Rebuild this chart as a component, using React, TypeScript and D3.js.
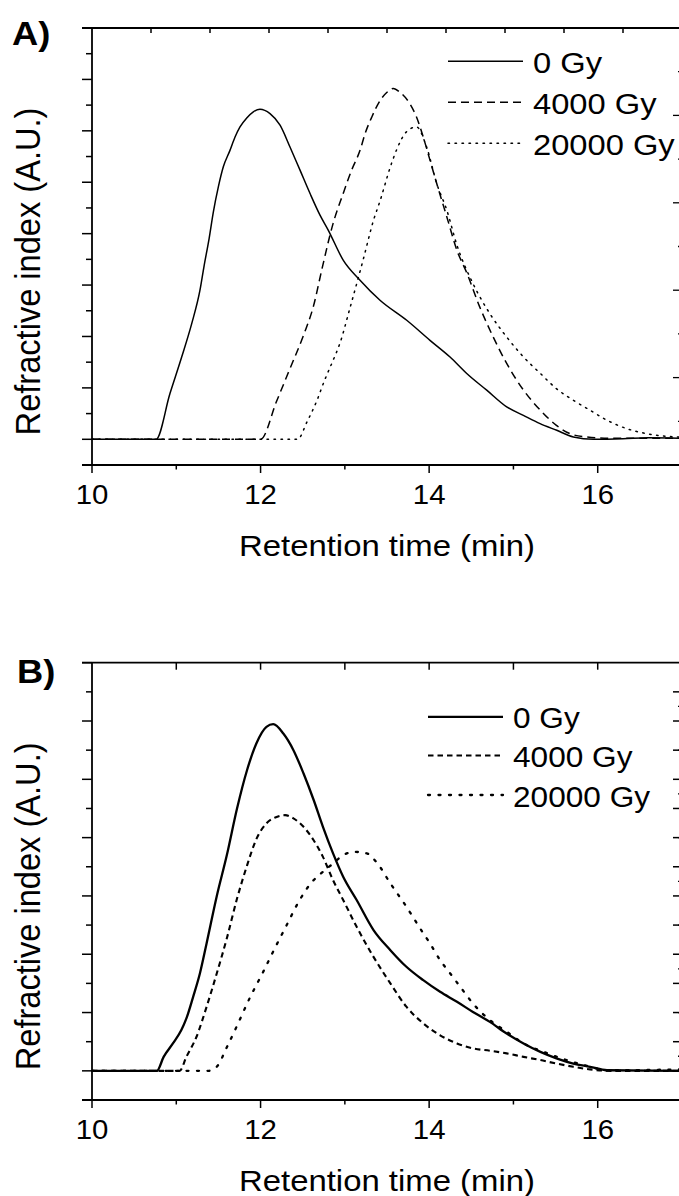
import React from "react";
import * as d3 from "d3";

// ---------- DATA ----------
const xTickLabels = ["10", "12", "14", "16"];
const legendLabels = ["0 Gy", "4000 Gy", "20000 Gy"];
const xTitle = "Retention time (min)";
const yTitle = "Refractive index (A.U.)";

// Panel A
const tA0 = [10, 10.76, 10.925, 11.064, 11.183, 11.281, 11.33, 11.39, 11.44, 11.499, 11.558, 11.637, 11.697, 11.756, 11.836, 11.914, 11.993, 12.112, 12.231, 12.349, 12.468, 12.587, 12.705, 12.804, 12.982, 13.18, 13.417, 13.734, 14.01, 14.248, 14.446, 14.683, 14.92, 15.118, 15.316, 15.514, 15.711, 15.948, 16.3, 16.6, 17];
const vA0 = [0, 0, 1.78, 3.2, 4.5, 5.8, 6.75, 7.82, 8.85, 9.82, 10.6, 11.24, 11.76, 12.15, 12.5, 12.74, 12.84, 12.67, 12.22, 11.37, 10.47, 9.56, 8.72, 8.13, 6.96, 6.19, 5.41, 4.63, 3.85, 3.2, 2.56, 1.91, 1.26, 0.93, 0.61, 0.35, 0.09, 0, 0.02, 0.06, 0.04];

const tA1 = [10, 12.0, 12.19, 12.35, 12.51, 12.63, 12.73, 12.86, 12.98, 13.08, 13.18, 13.24, 13.32, 13.42, 13.5, 13.575, 13.65, 13.77, 13.85, 13.93, 14.01, 14.09, 14.21, 14.33, 14.45, 14.6, 14.76, 14.92, 15.12, 15.32, 15.51, 15.67, 15.87, 16.15, 17];
const vA1 = [0, 0, 1.48, 2.76, 4.05, 5.21, 6.65, 8.39, 9.56, 10.47, 11.24, 11.89, 12.54, 13.19, 13.5, 13.65, 13.51, 13.06, 12.54, 11.76, 10.86, 9.95, 8.65, 7.35, 6.45, 5.15, 3.98, 2.95, 1.91, 1.13, 0.54, 0.22, 0.09, 0.04, 0.04];

const tA2 = [10, 12.44, 12.55, 12.67, 12.76, 12.86, 12.94, 13.06, 13.22, 13.34, 13.42, 13.54, 13.62, 13.73, 13.85, 13.97, 14.09, 14.21, 14.33, 14.52, 14.72, 14.92, 15.12, 15.32, 15.51, 15.71, 15.91, 16.11, 16.34, 16.58, 17];
const vA2 = [0, 0, 0.67, 1.52, 2.3, 3.07, 3.72, 5.1, 7.02, 8.52, 9.3, 10.6, 11.31, 11.96, 12.15, 11.37, 9.95, 8.91, 7.55, 6.06, 4.89, 3.98, 3.2, 2.56, 1.97, 1.52, 1.13, 0.74, 0.42, 0.22, 0.08];

// Panel B
const tB0 = [10, 10.77, 10.85, 10.96, 11.06, 11.12, 11.2, 11.28, 11.36, 11.48, 11.6, 11.72, 11.84, 11.95, 12.07, 12.15, 12.27, 12.39, 12.51, 12.63, 12.74, 12.86, 12.98, 13.14, 13.34, 13.54, 13.73, 13.93, 14.13, 14.33, 14.52, 14.72, 14.92, 15.12, 15.32, 15.51, 15.71, 15.91, 16.11, 17];
const vB0 = [0, 0, 0.48, 0.94, 1.4, 1.8, 2.54, 3.34, 4.38, 5.99, 7.4, 8.99, 10.32, 11.23, 11.8, 11.89, 11.57, 11.0, 10.2, 9.29, 8.37, 7.46, 6.66, 5.86, 4.83, 4.14, 3.57, 3.11, 2.71, 2.37, 2.02, 1.68, 1.28, 0.94, 0.65, 0.43, 0.25, 0.14, 0.02, 0];

const tB1 = [10, 11.04, 11.12, 11.24, 11.36, 11.48, 11.6, 11.72, 11.84, 11.95, 12.07, 12.19, 12.29, 12.39, 12.51, 12.63, 12.74, 12.86, 12.98, 13.14, 13.34, 13.54, 13.73, 13.93, 14.13, 14.33, 14.52, 14.72, 14.92, 15.12, 15.32, 15.51, 15.71, 15.91, 16.15, 17];
const vB1 = [0, 0, 0.48, 1.17, 2.2, 3.34, 4.55, 5.9, 7.05, 7.95, 8.49, 8.71, 8.77, 8.66, 8.37, 7.91, 7.34, 6.54, 5.86, 4.94, 3.91, 3.0, 2.2, 1.63, 1.22, 0.94, 0.77, 0.69, 0.6, 0.48, 0.37, 0.25, 0.14, 0.05, 0, 0];

const tB2 = [10, 11.38, 11.48, 11.6, 11.74, 11.87, 12.03, 12.17, 12.31, 12.45, 12.59, 12.74, 12.86, 12.98, 13.12, 13.26, 13.38, 13.54, 13.73, 13.89, 14.01, 14.13, 14.25, 14.37, 14.52, 14.72, 14.92, 15.12, 15.36, 15.63, 15.91, 16.11, 17];
const vB2 = [0, 0, 0.14, 0.81, 1.67, 2.49, 3.39, 4.21, 5.0, 5.79, 6.41, 6.83, 7.11, 7.4, 7.51, 7.46, 7.14, 6.43, 5.63, 4.9, 4.37, 3.8, 3.34, 2.88, 2.31, 1.74, 1.34, 0.94, 0.65, 0.37, 0.14, 0.02, 0.05];

// ---------- LAYOUT ----------
const W = 679;
const H = 1196;
const FONT = "'Liberation Sans', Arial, Helvetica, sans-serif";
const X0 = 92;
const X1 = 682;

type Series = { t: number[]; v: number[]; dash: string; width: number };

type PanelProps = {
  label: string;
  top: number;
  bottom: number;
  yMax: number;
  series: Series[];
  legendX: number;
  legendLineX0: number;
  legendBaselines: number[];
  legendFont: number;
  topTicksMinor: boolean;
  topTickLen: number;
  labelX: number;
  labelY: number;
  mirrorRight: boolean;
};

function Panel(p: PanelProps) {
  const x = d3.scaleLinear().domain([10, 17]).range([X0, X1]);
  const y = d3.scaleLinear().domain([-1, p.yMax]).range([p.bottom, p.top]);
  const line = d3
    .line<[number, number]>()
    .x((d) => x(d[0]))
    .y((d) => y(d[1]))
    .curve(d3.curveMonotoneX);

  const yTicks = d3.range(-1, p.yMax + 1);
  const xTicks = d3.range(10, 18);
  const axisW = 1.8;
  const rightDiv = d3.range(1, 10).map((k) => p.top + ((p.bottom - p.top) * k) / 10);
  const topDiv = p.topTicksMinor
    ? d3.range(1, 10).map((k) => X0 + ((X1 - X0) * k) / 10)
    : xTicks.slice(1).map((t) => x(t));

  const midY = (p.top + p.bottom) / 2 + 25;

  return (
    <g>
      {p.series.map((s, i) => (
        <path
          key={i}
          d={line(s.t.map((t, j) => [t, s.v[j]] as [number, number])) || ""}
          fill="none"
          stroke="#000"
          strokeWidth={s.width}
          strokeDasharray={s.dash}
          strokeLinecap={s.dash.startsWith("2") || s.dash.startsWith("1") ? "round" : "butt"}
        />
      ))}
      <line x1={X0} x2={X0} y1={p.top} y2={p.bottom} stroke="#000" strokeWidth={axisW} />
      <line x1={X0 - 10} x2={X1} y1={p.top} y2={p.top} stroke="#000" strokeWidth={axisW} />
      <line x1={X0 - 10} x2={X1} y1={p.bottom} y2={p.bottom} stroke="#000" strokeWidth={axisW} />
      <line x1={X1} x2={X1} y1={p.top} y2={p.bottom} stroke="#000" strokeWidth={axisW} />
      {yTicks.map((v) => (
        <line
          key={"l" + v}
          x1={X0 - (v % 2 === 0 || v === -1 ? 10 : 6)}
          x2={X0}
          y1={y(v)}
          y2={y(v)}
          stroke="#000"
          strokeWidth={1.5}
        />
      ))}
      {rightDiv.map((yy, k) => (
        <line
          key={"r" + k}
          x1={X1 - (p.mirrorRight ? 4 : k % 2 === 1 ? 9 : 4)}
          x2={X1}
          y1={yy}
          y2={yy}
          stroke="#000"
          strokeWidth={1.3}
        />
      ))}
      {p.mirrorRight &&
        yTicks
          .filter((v) => v > -1 && v < p.yMax)
          .map((v) => (
            <line key={"rm" + v} x1={X1 - 9} x2={X1} y1={y(v)} y2={y(v)} stroke="#000" strokeWidth={1.5} />
          ))}
      {topDiv.map((xx, k) => (
        <line key={"t" + k} x1={xx} x2={xx} y1={p.top} y2={p.top + p.topTickLen} stroke="#000" strokeWidth={1.5} />
      ))}
      {xTicks.map((t) => (
        <line
          key={"b" + t}
          x1={x(t)}
          x2={x(t)}
          y1={p.bottom}
          y2={p.bottom + (t % 2 === 0 ? 8 : 4.5)}
          stroke="#000"
          strokeWidth={1.5}
        />
      ))}
      {xTickLabels.map((lab) => (
        <text
          key={"xl" + lab}
          transform={`translate(${x(+lab)},${p.bottom + 38.5}) scale(1.05,1)`}
          textAnchor="middle"
          fontSize={28}
          fontFamily={FONT}
        >
          {lab}
        </text>
      ))}
      <text
        x={387}
        y={p.bottom + 90.7}
        textAnchor="middle"
        fontSize={29}
        fontFamily={FONT}
        textLength={296}
        lengthAdjust="spacingAndGlyphs"
      >
        {xTitle}
      </text>
      <text
        transform={`translate(40,${midY}) scale(1.07,1) rotate(-90)`}
        textAnchor="middle"
        fontSize={32.6}
        fontFamily={FONT}
      >
        {yTitle}
      </text>
      <text
        transform={`translate(${p.labelX},${p.labelY}) scale(1.1,1)`}
        fontSize={33}
        fontWeight="bold"
        fontFamily={FONT}
      >
        {p.label}
      </text>
      {legendLabels.map((lab, i) => {
        const by = p.legendBaselines[i];
        const s = p.series[i];
        return (
          <g key={"lg" + i}>
            <line
              x1={p.legendLineX0}
              x2={p.legendLineX0 + 75}
              y1={by - 11.5}
              y2={by - 11.5}
              stroke="#000"
              strokeWidth={s.width}
              strokeDasharray={s.dash}
              strokeLinecap={s.dash.startsWith("2") || s.dash.startsWith("1") ? "round" : "butt"}
            />
            <text
              transform={`translate(${p.legendX},${by}) scale(1.09,1)`}
              fontSize={p.legendFont}
              fontFamily={FONT}
            >
              {lab}
            </text>
          </g>
        );
      })}
    </g>
  );
}

export default function App() {
  const seriesA: Series[] = [
    { t: tA0, v: vA0, dash: "", width: 1.5 },
    { t: tA1, v: vA1, dash: "8,5", width: 1.5 },
    { t: tA2, v: vA2, dash: "1.5,5.5", width: 1.5 },
  ];
  const seriesB: Series[] = [
    { t: tB0, v: vB0, dash: "", width: 2.3 },
    { t: tB1, v: vB1, dash: "5.5,4", width: 2.1 },
    { t: tB2, v: vB2, dash: "2,8.5", width: 2.3 },
  ];
  return (
    <svg
      width={W}
      height={H}
      viewBox={`0 0 ${W} ${H}`}
      style={{ position: "absolute", left: 0, top: 0, background: "#fff" }}
    >
      <rect x={0} y={0} width={W} height={H} fill="#fff" />
      <Panel
        label="A)"
        top={28}
        bottom={465}
        yMax={16}
        series={seriesA}
        legendX={533}
        legendLineX0={448}
        legendBaselines={[72.7, 113.7, 154.7]}
        legendFont={30}
        topTicksMinor={true}
        topTickLen={5}
        labelX={12}
        labelY={45}
        mirrorRight={false}
      />
      <Panel
        label="B)"
        top={662.7}
        bottom={1100}
        yMax={14}
        series={seriesB}
        legendX={513}
        legendLineX0={428}
        legendBaselines={[728.3, 767, 806.5]}
        legendFont={29}
        topTicksMinor={false}
        topTickLen={7}
        labelX={17}
        labelY={683}
        mirrorRight={true}
      />
    </svg>
  );
}
